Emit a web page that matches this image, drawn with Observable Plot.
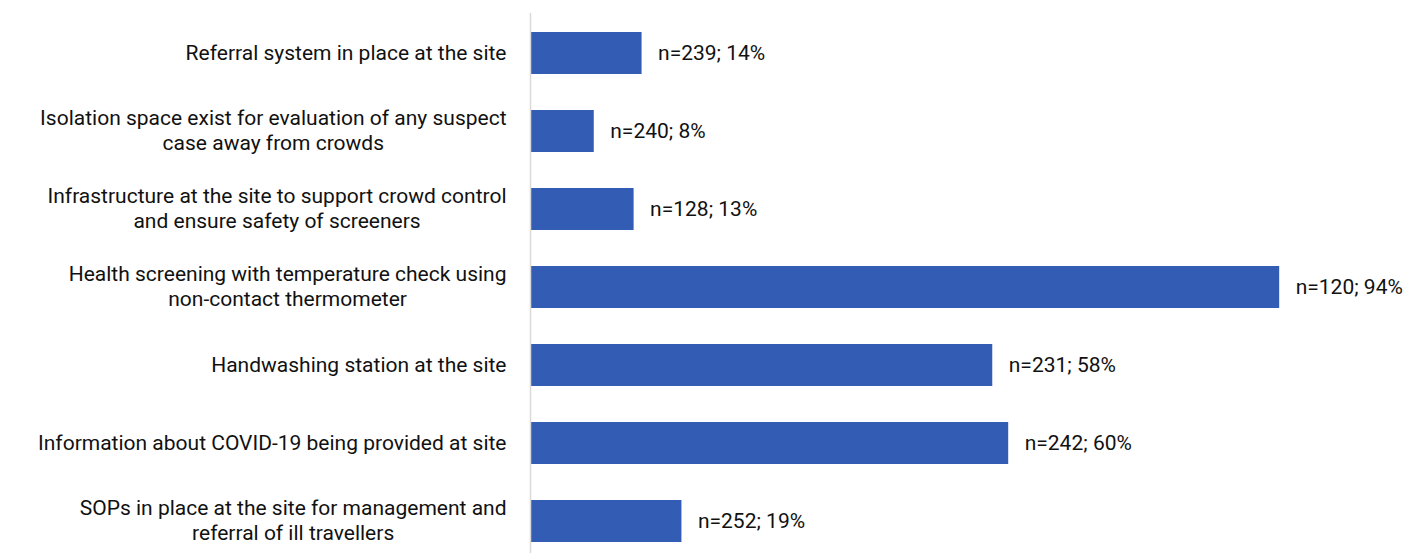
<!DOCTYPE html>
<html>
<head>
<meta charset="utf-8">
<script src="https://cdn.jsdelivr.net/npm/d3@7"></script>
<script src="https://cdn.jsdelivr.net/npm/@observablehq/plot@0.6"></script>
<style>
  html, body { margin: 0; padding: 0; background: #fff; }
  #chart svg { display: block; }
</style>
</head>
<body>
<div id="chart"></div>
<script>
const categories = [
  "Referral system in place at the site",
  "Isolation space exist for evaluation of any suspect\ncase away from crowds",
  "Infrastructure at the site to support crowd control\nand ensure safety of screeners",
  "Health screening with temperature check using\nnon-contact thermometer",
  "Handwashing station at the site",
  "Information about COVID-19 being provided at site",
  "SOPs in place at the site for management and\nreferral of ill travellers"
];
const nValues = [239, 240, 128, 120, 231, 242, 252];
const percents = [14, 8, 13, 94, 58, 60, 19];

const data = categories.map((c, i) => ({cat: c, n: nValues[i], pct: percents[i]}));

const FONT = "Roboto, sans-serif";
const FS = 21;
const ctx = document.createElement("canvas").getContext("2d");
ctx.font = `${FS}px Roboto`;
const lineW = s => Math.max(...s.split("\n").map(l => ctx.measureText(l).width));
const GAP = 24;

const labelMarks = data.map(d => Plot.text([d], {
  x: () => 0, y: "cat", text: "cat",
  textAnchor: "middle", lineAnchor: "middle", lineHeight: 25 / FS,
  dx: -(GAP + lineW(d.cat) / 2), dy: -2, fill: "#111"
}));

const chart = Plot.plot({
  width: 1415,
  height: 553,
  marginLeft: 530,
  marginRight: 88,
  marginTop: 13,
  marginBottom: 0,
  style: {fontFamily: FONT, fontSize: FS + "px", background: "#fff"},
  x: {domain: [0, 100], axis: null},
  y: {domain: categories, range: [13, 560], paddingInner: 0.463, paddingOuter: 0.23, axis: null},
  marks: [
    Plot.barX(data, {x: "pct", y: "cat", fill: "#335cb5"}),
    Plot.ruleX([0], {stroke: "#d9d9d9", strokeWidth: 1.5}),
    ...labelMarks,
    Plot.text(data, {x: "pct", y: "cat", text: d => `n=${d.n}; ${d.pct}%`, textAnchor: "start", dx: 16, fill: "#111"})
  ]
});
document.getElementById("chart").appendChild(chart);
</script>
</body>
</html>
